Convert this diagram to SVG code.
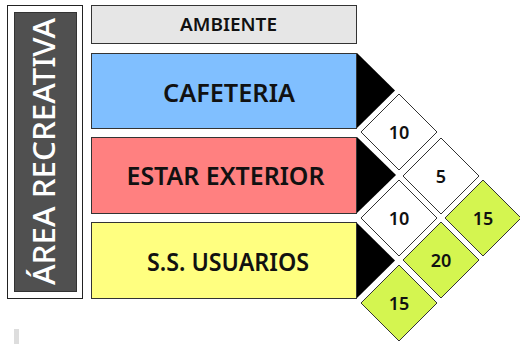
<svg xmlns="http://www.w3.org/2000/svg" width="520" height="344" viewBox="0 0 520 344">
<style>
  .lbl { font-family: "Noto Sans", "Liberation Sans", sans-serif; fill: #111; text-anchor: middle; }
  .big { font-size: 26px; font-weight: 600; }
  .hdr { font-size: 18px; font-weight: 600; }
  .num { font-size: 18px; font-weight: 600; }
  .box { stroke: #333; stroke-width: 1; }
  .tri { fill: #000; }
  .dia { stroke: #333; stroke-width: 1; }
  .w { fill: #ffffff; }
  .g { fill: #d4f550; }
</style>
<rect width="520" height="344" fill="#ffffff"/>

<g id="area">
  <rect x="7.5" y="5.5" width="75" height="293" fill="#ffffff" stroke="#222" stroke-width="1"/>
  <rect x="14.5" y="12.5" width="62" height="279" fill="#505050" stroke="#333" stroke-width="1"/>
  <text transform="translate(55,151.5) rotate(-90)" font-family="Noto Sans, Liberation Sans, sans-serif" font-size="30" font-weight="500" fill="#ffffff" text-anchor="middle" textLength="267" lengthAdjust="spacingAndGlyphs">ÁREA RECREATIVA</text>
</g>

<g id="ambiente">
  <rect class="box" x="91.5" y="5.5" width="265" height="38" fill="#e6e6e6"/>
  <text class="lbl hdr" x="228.5" y="30.5" textLength="97" lengthAdjust="spacingAndGlyphs">AMBIENTE</text>
</g>

<g id="cafeteria">
  <rect class="box" x="91.5" y="53.5" width="265" height="75" fill="#80bfff"/>
  <polygon class="tri" points="357,53 395,90.5 357,128"/>
  <text class="lbl big" x="229" y="101.5" textLength="132" lengthAdjust="spacingAndGlyphs">CAFETERIA</text>
</g>

<g id="estar">
  <rect class="box" x="91.5" y="137.5" width="265" height="76" fill="#ff8080"/>
  <polygon class="tri" points="357,137 396,175 357,213"/>
  <text class="lbl big" x="225.5" y="185" textLength="198" lengthAdjust="spacingAndGlyphs">ESTAR EXTERIOR</text>
</g>

<g id="ssusuarios">
  <rect class="box" x="91.5" y="222.5" width="265" height="76" fill="#ffff80"/>
  <polygon class="tri" points="357,223 395,260.5 357,298"/>
  <text class="lbl big" x="228" y="270.5" textLength="162" lengthAdjust="spacingAndGlyphs">S.S. USUARIOS</text>
</g>

<g id="connectors">
  <g id="c-caf-est">
    <polygon class="dia w" points="399,94 437,132 399,170 361,132"/>
    <text class="lbl num" x="399" y="138.5">10</text>
  </g>
  <g id="c-caf-ss">
    <polygon class="dia w" points="441,138 479,176 441,214 403,176"/>
    <text class="lbl num" x="441" y="182.5">5</text>
  </g>
  <g id="c-est-ss">
    <polygon class="dia w" points="399,180 437,218 399,256 361,218"/>
    <text class="lbl num" x="399" y="224.5">10</text>
  </g>
  <g id="c-r1">
    <polygon class="dia g" points="483,180 521,218 483,256 445,218"/>
    <text class="lbl num" x="483" y="224.5">15</text>
  </g>
  <g id="c-r2">
    <polygon class="dia g" points="441,222 479,260 441,298 403,260"/>
    <text class="lbl num" x="441" y="266.5">20</text>
  </g>
  <g id="c-r3">
    <polygon class="dia g" points="399,265 437,303 399,341 361,303"/>
    <text class="lbl num" x="399" y="309.5">15</text>
  </g>
</g>

<rect x="14" y="329" width="5" height="15" fill="#dddddd"/>
</svg>
